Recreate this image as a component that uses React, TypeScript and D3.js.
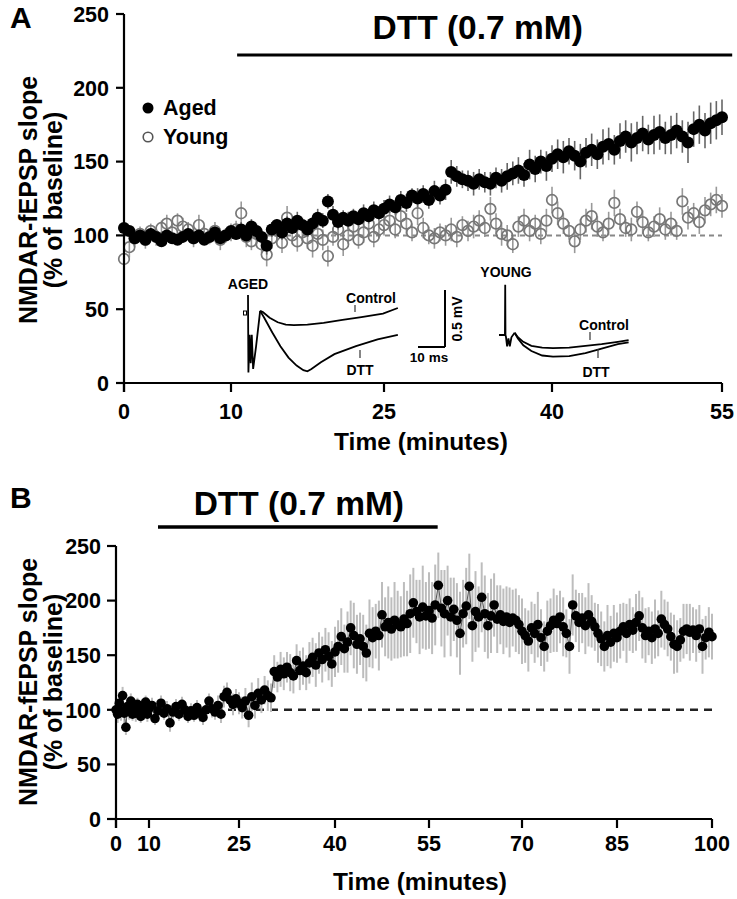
import React from "react";
import * as d3 from "d3";

const FONT = "'Liberation Sans', Arial, Helvetica, sans-serif";

// ---------- Panel A data ----------
const aTimeTicks = [0, 10, 25, 40, 55];
const aYTicks = [0, 50, 100, 150, 200, 250];
const aStep = 0.5; // minutes between samples
const agedValues = [
  105, 103, 98, 100, 97, 101, 99, 96, 100, 98, 97, 99, 101, 98, 100, 97, 99, 102, 98, 100, 103,
  101, 104, 100, 106, 103, 99, 93, 104, 107, 102, 108, 105, 110, 107, 104, 108, 112, 110, 123, 114,
  109, 112, 110, 113, 111, 115, 113, 117, 115, 118,
  121, 119, 124, 122, 127, 125, 128, 124, 130, 127, 131, 143, 140, 138, 137, 135, 138, 136, 135, 139,
  137, 140, 142, 144, 141, 148, 145, 150, 147, 152,
  155, 153, 157, 154, 150, 156, 158, 155, 160, 162, 158, 164, 167, 163, 166, 169, 165, 168, 170, 166,
  168, 171, 167, 163, 172, 175, 171, 176, 178, 180,
];
const agedErr = [
  4, 3, 4, 3, 3, 4, 3, 3, 4, 3, 3, 4, 3, 3, 4, 3, 4, 3, 3, 4, 3,
  4, 5, 4, 5, 4, 5, 6, 5, 4, 5, 5, 4, 6, 5, 5, 4, 6, 5, 5, 6, 5, 5, 6, 5, 5, 6, 5, 6, 5, 6,
  6, 5, 6, 6, 5, 7, 6, 6, 7, 6, 7, 8, 7, 6, 7, 8, 7, 7, 8, 7, 8, 9, 8, 9, 8, 10, 9, 8, 10, 9,
  10, 11, 9, 10, 12, 10, 11, 10, 12, 11, 10, 12, 11, 13, 11, 12, 10, 13, 12, 11, 13, 12, 11, 14, 12,
  13, 12, 14, 13, 12,
];
const youngValues = [
  84, 92, 98, 101, 97, 103, 99, 105, 108, 102, 110, 106, 104, 98, 107, 101, 99, 103, 97, 100, 102,
  104, 115, 99, 96, 101, 94, 87, 98, 103, 95, 112, 100, 96, 102, 98, 93, 101, 97, 86, 99,
  104, 94, 100, 106, 97, 102, 108, 99, 104, 107,
  110, 104, 113, 108, 102, 115, 105, 100, 98, 102, 100, 104, 99, 107, 103, 106, 110, 105, 118, 108,
  101, 100, 94, 106, 110, 103, 108, 101, 110, 124,
  115, 108, 103, 96, 104, 110, 113, 106, 102, 108, 122, 111, 105, 104, 116, 109, 102, 106, 111, 104,
  108, 103, 123, 112, 115, 109, 117, 121, 124, 120,
];
const youngErr = [
  8, 7, 6, 5, 6, 5, 6, 5, 6, 7, 5, 6, 5, 6, 7, 6, 5, 6, 7, 5, 6,
  6, 8, 7, 6, 7, 6, 8, 7, 6, 7, 8, 6, 7, 6, 7, 8, 6, 7, 7, 6, 7, 8, 6, 7, 6, 7, 8, 7, 6, 7,
  7, 6, 8, 7, 6, 8, 7, 6, 7, 6, 7, 8, 7, 6, 7, 8, 7, 6, 8, 7, 8, 7, 6, 7, 8, 7, 6, 7, 8, 9,
  8, 7, 6, 8, 7, 8, 9, 7, 6, 8, 9, 7, 6, 8, 7, 8, 6, 7, 8, 7, 8, 6, 9, 8, 7, 8, 9, 8, 9, 8,
];
const aDrug = [10.6, 55.9];

// ---------- Panel B data ----------
const bTimeTicks = [0, 10, 25, 40, 55, 70, 85, 100];
const bYTicks = [0, 50, 100, 150, 200, 250];
const bStep = 0.5;
const bValues = [
  100, 96, 106, 99, 113, 97, 84, 103, 99, 108, 96, 102, 97, 105, 100, 94, 103, 99, 107, 96, 101,
  104, 92, 99, 106, 97, 101, 88, 98, 103, 96, 105, 100, 94, 99, 95, 102, 97, 93, 100, 108, 101, 98, 104, 96, 112, 116, 109, 105, 110, 106,
  102, 108, 95, 112, 104, 115, 109, 118, 113, 111, 135, 130, 137, 133, 139, 134, 131, 145, 136, 140, 134, 143, 148, 141, 152, 146, 155, 149, 142, 153,
  158, 167, 156, 162, 175, 168, 160, 165, 158, 152, 170, 166, 172, 168, 187, 176, 180, 174, 182, 178, 176, 183, 179, 188, 198, 190, 185, 194, 186, 191,
  184, 196, 214, 193, 188, 200, 185, 192, 182, 170, 188, 195, 213, 177, 190, 185, 203, 188, 177, 186, 196, 183, 187, 181, 185, 180, 184, 182, 178, 172,
  168, 163, 175, 170, 178, 166, 158, 172, 177, 182, 179, 185, 176, 170, 158, 196, 186, 180, 184, 177, 187, 181, 176, 170, 165, 158, 168, 162, 170, 166,
  172, 176, 170, 178, 173, 180, 186, 175, 168, 172, 166, 174, 170, 183, 178, 174, 167, 160, 158, 164, 172, 174, 171, 173, 168, 174, 158, 166, 171, 167,
];
const bErr = [
  6, 8, 7, 9, 8, 10, 7, 6, 8, 7, 6, 7, 8, 6, 7, 6, 7, 8, 6, 7, 6,
  7, 6, 8, 7, 6, 7, 8, 6, 7, 6, 7, 8, 6, 7, 6, 7, 8, 7, 6, 7, 8, 7, 9, 8, 10, 9, 8, 10, 9, 10,
  10, 12, 11, 13, 12, 14, 12, 13, 14, 13, 15, 14, 16, 15, 14, 17, 16, 15, 18, 17, 16, 19, 18, 20, 19, 21, 20, 22, 21, 23,
  24, 26, 22, 28, 25, 30, 27, 24, 29, 26, 31, 28, 25, 32, 30, 27, 33, 29, 35, 31, 28, 34, 30, 36, 32, 29, 34, 38, 31, 35,
  33, 37, 30, 35, 40, 32, 36, 29, 34, 38, 31, 35, 30, 33, 37, 28, 32, 35, 30, 34, 29, 31, 27, 30, 28, 32, 26, 29, 27, 30,
  25, 28, 24, 27, 30, 26, 23, 28, 25, 29, 26, 24, 27, 22, 25, 28, 24, 27, 23, 26, 29, 24, 22, 27, 25, 23, 28, 24, 26, 23,
  25, 22, 27, 24, 21, 26, 23, 28, 25, 22, 24, 27, 21, 26, 23, 25, 22, 27, 24, 20, 25, 23, 26, 21, 24, 22, 25, 20, 23, 21,
];
const bDrug = [11.5, 56.4];
const baselinePct = 100;

// ---------- Inset traces [ms, mV] ----------
const agedArtifact: [number, number][] = [
  [0, 0.15], [0.15, -0.53], [0.6, -0.2], [1.0, -0.45], [1.4, -0.2], [1.9, -0.5], [3.0, -0.3], [4.5, 0.01],
];
const agedControl: [number, number][] = [
  [4.5, 0.01], [5.5, 0.0], [8, -0.05], [11, -0.09], [14, -0.11], [17, -0.115], [22, -0.11], [28, -0.095],
  [35, -0.07], [42, -0.045], [50, -0.015], [55.5, 0.035],
];
const agedDTT: [number, number][] = [
  [4.5, 0.01], [6, -0.05], [9, -0.18], [12, -0.3], [15, -0.4], [18, -0.47], [20.5, -0.51], [22, -0.52],
  [23.5, -0.5], [27, -0.44], [32, -0.37], [40, -0.3], [48, -0.24], [55.5, -0.2],
];
const youngArtifact: [number, number][] = [
  [0, 0], [2.2, 0], [2.3, 0.44], [2.4, 0], [2.6, -0.02], [3.0, -0.1], [3.5, -0.03], [4.0, -0.1], [4.6, -0.02], [5.8, 0.02],
];
const youngControl: [number, number][] = [
  [5.8, 0.02], [7, -0.02], [9, -0.06], [12, -0.095], [16, -0.11], [20, -0.115], [26, -0.11], [32, -0.095],
  [38, -0.08], [44, -0.06], [48, -0.045],
];
const youngDTT: [number, number][] = [
  [5.8, 0.02], [7, -0.03], [9, -0.09], [12, -0.14], [16, -0.18], [20, -0.19], [26, -0.185], [32, -0.16],
  [38, -0.12], [44, -0.08], [48, -0.065],
];
const scaleBarMs = 10;
const scaleBarMv = 0.5;

const bold = { fontFamily: FONT, fontWeight: 700 as const };

function YTitle({ cx, cy }: { cx: number; cy: number }) {
  return (
    <g transform={`translate(${cx},${cy}) rotate(-90)`}>
      <text x={0} y={0} textAnchor="middle" fontSize={25} {...bold}>NMDAR-fEPSP slope</text>
      <text x={0} y={25} textAnchor="middle" fontSize={25} {...bold}>(% of baseline)</text>
    </g>
  );
}

export default function App() {
  const W = 737, H = 899;

  // Panel A scales
  const ax = d3.scaleLinear().domain(aTimeTicks).range([124, 231, 384, 552, 722]);
  const ay = d3.scaleLinear().domain([0, 250]).range([383, 14]);
  // Panel B scales
  const bx = d3.scaleLinear().domain(bTimeTicks).range([116, 149, 239, 335, 429, 522, 617, 712]);
  const by = d3.scaleLinear().domain([0, 250]).range([819, 546]);

  const aged = agedValues.map((v, i) => ({ t: i * aStep, v, e: agedErr[i] ?? 0 }));
  const young = youngValues.map((v, i) => ({ t: i * aStep, v, e: youngErr[i] ?? 0 }));
  const bData = bValues.map((v, i) => ({ t: i * bStep, v, e: bErr[i] ?? 0 }));

  const bLine = d3.line<{ t: number; v: number }>().x((d) => bx(d.t)).y((d) => by(d.v));

  // Inset scales
  const agedSx = d3.scaleLinear().domain([0, 10]).range([248, 275]);
  const agedSy = d3.scaleLinear().domain([0, 0.5]).range([312, 255]);
  const youngSx = d3.scaleLinear().domain([0, 10]).range([499, 526]);
  const youngSy = d3.scaleLinear().domain([0, 0.5]).range([335, 278]);
  const barSx = d3.scaleLinear().domain([0, 10]).range([418, 445]);
  const barSy = d3.scaleLinear().domain([0, 0.5]).range([347, 290]);
  const agedPath = d3.line<[number, number]>().x((d) => agedSx(d[0])).y((d) => agedSy(d[1]));
  const youngPath = d3.line<[number, number]>().x((d) => youngSx(d[0])).y((d) => youngSy(d[1]));

  const axisStroke = 2.2;

  return (
    <svg width={W} height={H} style={{ position: "absolute", left: 0, top: 0, background: "#fff" }}>
      <rect width={W} height={H} fill="#fff" />

      {/* ================= Panel A ================= */}
      <text x={10} y={28} fontSize={30} {...bold}>A</text>

      {/* drug bar */}
      <text x={(ax(aDrug[0]) + ax(aDrug[1])) / 2 - 7} y={39} textAnchor="middle" fontSize={33.5} {...bold}>DTT (0.7 mM)</text>
      <line x1={ax(aDrug[0])} x2={ax(aDrug[1])} y1={55} y2={55} stroke="#000" strokeWidth={3} />

      {/* baseline dashed */}
      <line x1={ax(0)} x2={ax(55)} y1={ay(baselinePct)} y2={ay(baselinePct)} stroke="#888" strokeWidth={2} strokeDasharray="5,4" />

      {/* young error bars */}
      {young.map((d, i) => (
        <line key={"ye" + i} x1={ax(d.t)} x2={ax(d.t)} y1={ay(d.v - d.e)} y2={ay(d.v + d.e)} stroke="#999" strokeWidth={1.6} />
      ))}
      {/* aged error bars */}
      {aged.map((d, i) => (
        <line key={"ae" + i} x1={ax(d.t)} x2={ax(d.t)} y1={ay(d.v - d.e)} y2={ay(d.v + d.e)} stroke="#666" strokeWidth={1.6} />
      ))}
      {/* young markers */}
      {young.map((d, i) => (
        <circle key={"ym" + i} cx={ax(d.t)} cy={ay(d.v)} r={5.3} fill="none" stroke="#777" strokeWidth={1.7} />
      ))}
      {/* aged markers */}
      {aged.map((d, i) => (
        <circle key={"am" + i} cx={ax(d.t)} cy={ay(d.v)} r={6} fill="#000" />
      ))}

      {/* legend */}
      <circle cx={148} cy={108} r={5.5} fill="#000" />
      <text x={163} y={115} fontSize={21.5} {...bold}>Aged</text>
      <circle cx={148} cy={137} r={4.8} fill="none" stroke="#555" strokeWidth={1.6} />
      <text x={163} y={144} fontSize={21.5} {...bold}>Young</text>

      {/* axes */}
      <line x1={124} x2={124} y1={ay(250)} y2={ay(0) + 9} stroke="#000" strokeWidth={axisStroke} />
      <line x1={124} x2={ax(55)} y1={ay(0)} y2={ay(0)} stroke="#000" strokeWidth={axisStroke} />
      {aYTicks.map((t) => (
        <g key={"ayt" + t}>
          <line x1={116} x2={124} y1={ay(t)} y2={ay(t)} stroke="#000" strokeWidth={axisStroke} />
          <text x={109} y={ay(t)} dy="0.36em" textAnchor="end" fontSize={21.5} {...bold}>{t}</text>
        </g>
      ))}
      {aTimeTicks.map((t) => (
        <g key={"axt" + t}>
          <line x1={ax(t)} x2={ax(t)} y1={ay(0)} y2={ay(0) + 9} stroke="#000" strokeWidth={axisStroke} />
          <text x={ax(t)} y={419} textAnchor="middle" fontSize={21.5} {...bold}>{t}</text>
        </g>
      ))}
      <text x={421} y={450} textAnchor="middle" fontSize={24.5} {...bold}>Time (minutes)</text>
      <YTitle cx={37} cy={200} />

      {/* ---- insets ---- */}
      <text x={248} y={289} textAnchor="middle" fontSize={14} {...bold}>AGED</text>
      <rect x={243.5} y={311} width={3} height={4} fill="none" stroke="#000" strokeWidth={1} />
      <path d={agedPath(agedArtifact) ?? ""} fill="none" stroke="#000" strokeWidth={1.8} />
      <path d={agedPath(agedControl) ?? ""} fill="none" stroke="#000" strokeWidth={1.8} />
      <path d={agedPath(agedDTT) ?? ""} fill="none" stroke="#000" strokeWidth={1.8} />
      <text x={371} y={303} textAnchor="middle" fontSize={14} {...bold}>Control</text>
      <line x1={355} x2={355} y1={305} y2={312} stroke="#333" strokeWidth={1.2} />
      <text x={360} y={375} textAnchor="middle" fontSize={14} {...bold}>DTT</text>
      <line x1={360} x2={360} y1={350} y2={358} stroke="#333" strokeWidth={1.2} />

      {/* scale bar */}
      <line x1={barSx(0)} x2={barSx(scaleBarMs)} y1={barSy(0)} y2={barSy(0)} stroke="#000" strokeWidth={2} />
      <line x1={barSx(scaleBarMs)} x2={barSx(scaleBarMs)} y1={barSy(0)} y2={barSy(scaleBarMv)} stroke="#000" strokeWidth={2} />
      <text x={429} y={362} textAnchor="middle" fontSize={13.5} {...bold}>10 ms</text>
      <text transform={`translate(462,319) rotate(-90)`} textAnchor="middle" fontSize={14} {...bold}>0.5 mV</text>

      <text x={506} y={277} textAnchor="middle" fontSize={14} {...bold}>YOUNG</text>
      <path d={youngPath(youngArtifact) ?? ""} fill="none" stroke="#000" strokeWidth={1.8} />
      <path d={youngPath(youngControl) ?? ""} fill="none" stroke="#000" strokeWidth={1.8} />
      <path d={youngPath(youngDTT) ?? ""} fill="none" stroke="#000" strokeWidth={1.8} />
      <text x={604} y={330} textAnchor="middle" fontSize={14} {...bold}>Control</text>
      <line x1={590} x2={590} y1={332} y2={340} stroke="#333" strokeWidth={1.2} />
      <text x={596} y={377} textAnchor="middle" fontSize={14} {...bold}>DTT</text>
      <line x1={598} x2={598} y1={349} y2={358} stroke="#333" strokeWidth={1.2} />

      {/* ================= Panel B ================= */}
      <text x={10} y={508} fontSize={30} {...bold}>B</text>
      <text x={(bx(bDrug[0]) + bx(bDrug[1])) / 2 + 1} y={515} textAnchor="middle" fontSize={33.5} {...bold}>DTT (0.7 mM)</text>
      <line x1={bx(bDrug[0])} x2={bx(bDrug[1])} y1={527} y2={527} stroke="#000" strokeWidth={3.5} />

      <line x1={bx(0)} x2={bx(100)} y1={by(baselinePct)} y2={by(baselinePct)} stroke="#222" strokeWidth={2.5} strokeDasharray="8,6" />

      {bData.map((d, i) => (
        <line key={"be" + i} x1={bx(d.t)} x2={bx(d.t)} y1={by(d.v - d.e)} y2={by(d.v + d.e)} stroke="#bdbdbd" strokeWidth={2} />
      ))}
      <path d={bLine(bData) ?? ""} fill="none" stroke="#555" strokeWidth={1} />
      {bData.map((d, i) => (
        <circle key={"bm" + i} cx={bx(d.t)} cy={by(d.v)} r={4.8} fill="#000" />
      ))}

      <line x1={116} x2={116} y1={by(250)} y2={by(0) + 9} stroke="#000" strokeWidth={axisStroke} />
      <line x1={116} x2={bx(100)} y1={by(0)} y2={by(0)} stroke="#000" strokeWidth={axisStroke} />
      {bYTicks.map((t) => (
        <g key={"byt" + t}>
          <line x1={107} x2={116} y1={by(t)} y2={by(t)} stroke="#000" strokeWidth={axisStroke} />
          <text x={101} y={by(t)} dy="0.36em" textAnchor="end" fontSize={21.5} {...bold}>{t}</text>
        </g>
      ))}
      {bTimeTicks.map((t) => (
        <g key={"bxt" + t}>
          <line x1={bx(t)} x2={bx(t)} y1={by(0)} y2={by(0) + 9} stroke="#000" strokeWidth={axisStroke} />
          <text x={bx(t)} y={851} textAnchor="middle" fontSize={21.5} {...bold}>{t}</text>
        </g>
      ))}
      <text x={420} y={890} textAnchor="middle" fontSize={24.5} {...bold}>Time (minutes)</text>
      <YTitle cx={37} cy={682} />
    </svg>
  );
}
